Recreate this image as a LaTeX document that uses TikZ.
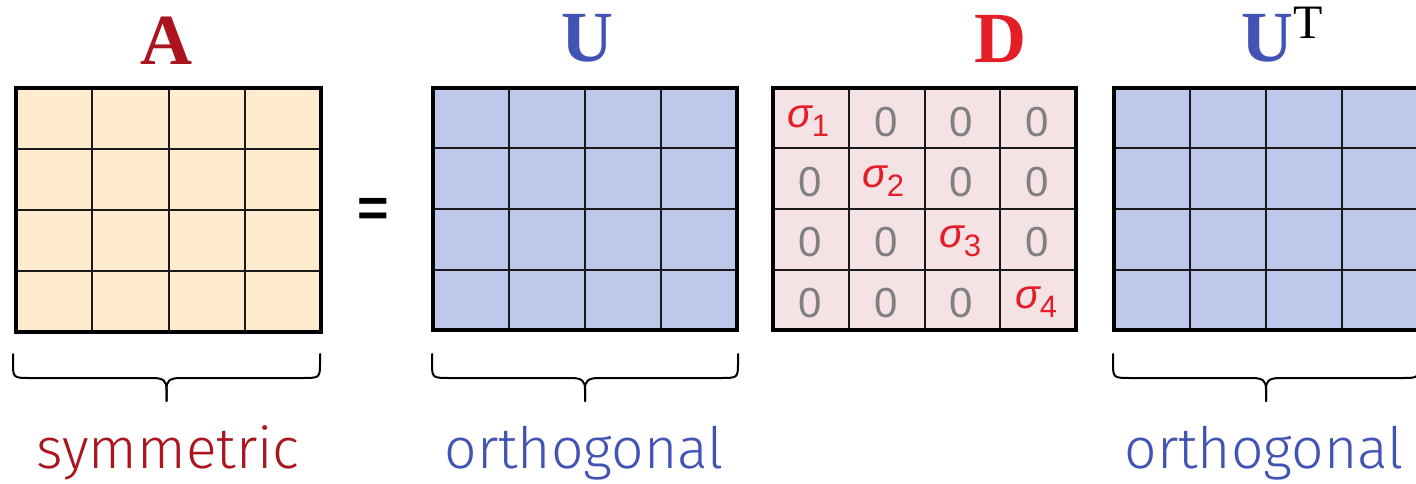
\documentclass[tikz,border=0pt]{standalone}
\usepackage{fontspec}
\setmainfont{Liberation Serif}
\newfontfamily\lblfont{Fira Sans Light}
\newfontfamily\cellfont{Liberation Sans}
\usetikzlibrary{calc}
\definecolor{acol}{RGB}{172,20,30}
\definecolor{ucol}{RGB}{65,83,180}
\definecolor{dcol}{RGB}{228,30,38}
\definecolor{zcol}{RGB}{128,128,128}
\definecolor{afill}{RGB}{255,235,205}
\definecolor{ufill}{RGB}{190,200,235}
\definecolor{dfill}{RGB}{244,226,228}
\tikzset{
  matbox/.style={draw=black, line width=4pt, inner sep=0pt, outer sep=0pt, anchor=north west},
  innerline/.style={draw=black!90, line width=2pt},
  bracestyle/.style={draw=black, line width=2pt, line cap=round},
  titlelbl/.style={anchor=base, font=\bfseries\fontsize{72}{72}\selectfont},
  suplbl/.style={anchor=base, font=\fontsize{48}{48}\selectfont, text=black},
  botlbl/.style={anchor=base, font=\lblfont\fontsize{57}{57}\selectfont},
  zero/.style={anchor=base, text=zcol, font=\cellfont\fontsize{42}{42}\selectfont},
  sig/.style={anchor=base, text=dcol, font=\cellfont\fontsize{41}{41}\selectfont},
}
\newcommand\gridlines[1]{%
  \foreach \i in {1,2,3}{%
    \draw[innerline] ($(#1.north west)!\i/4!(#1.north east)$) -- ($(#1.south west)!\i/4!(#1.south east)$);
    \draw[innerline] ($(#1.north west)!\i/4!(#1.south west)$) -- ($(#1.north east)!\i/4!(#1.south east)$);
  }%
  \draw[black, line width=4pt] (#1.north west) rectangle (#1.south east);
}
\newcommand\downbrace[2]{%
  \pgfmathsetmacro\bmid{(#1+#2)/2}%
  \draw[bracestyle] (#1,354) -- (#1,362) .. controls (#1,378) and (#1,378) .. ({#1+18},378) -- ({\bmid-14},378) .. controls ({\bmid-3},378) and (\bmid,381) .. (\bmid,389) -- (\bmid,401);
  \draw[bracestyle] (#2,354) -- (#2,362) .. controls (#2,378) and (#2,378) .. ({#2-18},378) -- ({\bmid+14},378) .. controls ({\bmid+3},378) and (\bmid,381) .. (\bmid,389) -- (\bmid,401);
}
\newcommand\sigmacell[2]{{\itshape σ}\raisebox{-9pt}{\fontsize{31}{31}\selectfont #2}}
\begin{document}
\begin{tikzpicture}[x=1pt,y=-1pt]
\useasboundingbox (0,0) rectangle (1416,484);
% matrices
\node[matbox, fill=afill, minimum width=305pt, minimum height=244pt] (mA) at (16,88) {};
\gridlines{mA}
\node[matbox, fill=ufill, minimum width=304pt, minimum height=242pt] (mU) at (433,88) {};
\gridlines{mU}
\node[matbox, fill=dfill, minimum width=303pt, minimum height=242pt] (mD) at (773,88) {};
\gridlines{mD}
\node[matbox, fill=ufill, minimum width=304pt, minimum height=242pt] (mT) at (1114,88) {};
\gridlines{mT}
% titles
\node[titlelbl, text=acol] (tA) at (166,65) {A};
\node[titlelbl, text=ucol] (tU) at (587,62) {U};
\node[titlelbl, text=dcol] (tD) at (1000,63) {D};
\node[titlelbl, text=ucol] (tUT) at (1267,62) {U};
\node[suplbl] (tT) at (1308,39) {T};
% equals
\node[anchor=base, font=\cellfont\bfseries\fontsize{54}{54}\selectfont] (eq) at (373,226) {=};
% D entries
\node[sig] (s1) at (808,128) {\sigmacell{}{1}};
\node[zero] (d12) at (886,137) {0};
\node[zero] (d13) at (961,137) {0};
\node[zero] (d14) at (1037,137) {0};
\node[zero] (d21) at (810,196) {0};
\node[sig] (s2) at (883,187) {\sigmacell{}{2}};
\node[zero] (d23) at (961,196) {0};
\node[zero] (d24) at (1037,196) {0};
\node[zero] (d31) at (810,256) {0};
\node[zero] (d32) at (886,256) {0};
\node[sig] (s3) at (960,247) {\sigmacell{}{3}};
\node[zero] (d34) at (1037,256) {0};
\node[zero] (d41) at (810,317) {0};
\node[zero] (d42) at (886,317) {0};
\node[zero] (d43) at (961,317) {0};
\node[sig] (s4) at (1036,308) {\sigmacell{}{4}};
% braces
\downbrace{13}{320}
\downbrace{432}{738}
\downbrace{1113}{1419}
% bottom labels
\node[botlbl, text=acol] (lsym) at (168,468) {symmetric};
\node[botlbl, text=ucol] (lorth1) at (584,468) {orthogonal};
\node[botlbl, text=ucol] (lorth2) at (1264,468) {orthogonal};
\end{tikzpicture}
\end{document}
